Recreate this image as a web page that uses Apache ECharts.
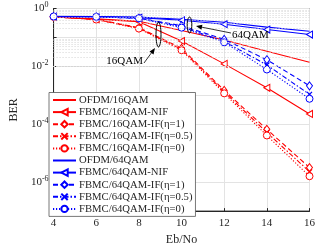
<!DOCTYPE html>
<html><head><meta charset="utf-8">
<script src="https://cdn.jsdelivr.net/npm/echarts@6/dist/echarts.min.js"></script>
<style>html,body{margin:0;padding:0;background:#fff}#c{width:318px;height:251px}</style>
</head><body><div id="c"></div>
<script>
const ebno = [4, 6, 8, 10, 12, 14, 16];
const ofdm16  = [0.515, 0.44, 0.362, 0.173, 0.082, 0.0335, 0.0139];
const nif16   = [0.515, 0.424, 0.348, 0.075, 0.0122, 0.00182, 2.27e-4];
const if16e1  = [0.515, 0.424, 0.218, 0.0424, 1.48e-3, 6.7e-5, 3.2e-6];
const if16e05 = [0.515, 0.417, 0.21, 0.0392, 1.32e-3, 5.2e-5, 2.3e-6];
const if16e0  = [0.515, 0.414, 0.202, 0.0362, 1.17e-3, 4.1e-5, 1.6e-6];
const ofdm64  = [0.536, 0.523, 0.503, 0.424, 0.335, 0.227, 0.164];
const nif64   = [0.527, 0.515, 0.484, 0.392, 0.287, 0.187, 0.126];
const if64e1  = [0.527, 0.515, 0.466, 0.255, 0.0855, 0.017, 0.00213];
const if64e05 = [0.527, 0.515, 0.466, 0.236, 0.0731, 0.0112, 1.08e-3];
const if64e0  = [0.527, 0.515, 0.458, 0.218, 0.0677, 0.0078, 7.6e-4];
const names = ['OFDM/16QAM','FBMC/16QAM-NIF','FBMC/16QAM-IF(η=1)','FBMC/16QAM-IF(η=0.5)','FBMC/16QAM-IF(η=0)',
               'OFDM/64QAM','FBMC/64QAM-NIF','FBMC/64QAM-IF(η=1)','FBMC/64QAM-IF(η=0.5)','FBMC/64QAM-IF(η=0)'];

const FONT = 'Liberation Serif';
const RED = '#ff0000', BLUE = '#0000ff';
const TRI = 'path://M0,5L10,0L10,10Z';
const XM = 'path://M0,0L10,10M10,0L0,10';

function mk(name, vals, color, type, sym) {
  const s = {
    name, type: 'line', data: ebno.map((x, i) => [x, vals[i]]),
    lineStyle: { color, width: 1.1, type }, z: 3, animation: false
  };
  if (sym === 'tri') { s.symbol = TRI; s.symbolSize = [6, 7]; s.itemStyle = { color: '#fff', borderColor: color, borderWidth: 1 }; }
  else if (sym === 'dia') { s.symbol = 'diamond'; s.symbolSize = [6, 8]; s.itemStyle = { color: '#fff', borderColor: color, borderWidth: 1 }; }
  else if (sym === 'x') { s.symbol = XM; s.symbolSize = 5; s.itemStyle = { color: 'transparent', borderColor: color, borderWidth: 1.3 }; }
  else if (sym === 'cir') { s.symbol = 'circle'; s.symbolSize = 7; s.itemStyle = { color: '#fff', borderColor: color, borderWidth: 1 }; }
  else { s.symbol = 'circle'; s.symbolSize = 0; s.showSymbol = false; s.itemStyle = { color: 'transparent', borderColor: 'transparent', borderWidth: 0 }; }
  if (sym) s.showSymbol = true;
  return s;
}
const dashDot = [5, 2, 1.5, 2];
const series = [
  mk(names[0], ofdm16, RED, 'solid', null),
  mk(names[1], nif16, RED, 'solid', 'tri'),
  mk(names[2], if16e1, RED, [5, 3], 'dia'),
  mk(names[3], if16e05, RED, dashDot, 'x'),
  mk(names[4], if16e0, RED, [1.2, 1.8], 'cir'),
  mk(names[5], ofdm64, BLUE, 'solid', null),
  mk(names[6], nif64, BLUE, 'solid', 'tri'),
  mk(names[7], if64e1, BLUE, [5, 3], 'dia'),
  mk(names[8], if64e05, BLUE, dashDot, 'x'),
  mk(names[9], if64e0, BLUE, [1.2, 1.8], 'cir')
];
const minor = [];
for (let e = -7; e < 0; e++) for (let k = 2; k <= 9; k++) minor.push(k * Math.pow(10, e));
series.unshift({
  name: '_grid', type: 'line', data: [], z: 1, animation: false,
  markLine: { silent: true, symbol: 'none', animation: false, label: { show: false },
    lineStyle: { type: [1, 2], color: '#d4d4d4', width: 1 },
    data: minor.map(v => ({ yAxis: v })) }
});

const chart = echarts.init(document.getElementById('c'));
chart.setOption({
  animation: false,
  grid: { left: 41, right: 6, top: 8.5, bottom: 35, show: true, borderColor: '#262626', borderWidth: 1, backgroundColor: 'transparent' },
  xAxis: {
    type: 'value', min: 4, max: 16, interval: 2,
    name: 'Eb/No', nameLocation: 'middle', nameGap: 21,
    nameTextStyle: { fontFamily: FONT, fontSize: 12, color: '#262626' },
    axisLine: { lineStyle: { color: '#262626' } },
    axisTick: { inside: true, length: 3, lineStyle: { color: '#262626' } },
    axisLabel: { fontFamily: FONT, fontSize: 11, color: '#262626', margin: 7 },
    splitLine: { show: true, lineStyle: { color: '#e3e3e3', width: 1 } }
  },
  yAxis: {
    type: 'log', logBase: 10, min: 1e-7, max: 1, interval: 1,
    name: 'BER', nameLocation: 'middle', nameGap: 27,
    nameTextStyle: { fontFamily: FONT, fontSize: 12, color: '#262626' },
    axisLine: { show: true, lineStyle: { color: '#262626' } },
    axisTick: { show: true, inside: true, length: 3, lineStyle: { color: '#262626' } },
    axisLabel: {
      margin: 5,
      formatter: v => { const e = Math.round(Math.log10(v)); if (e % 2 !== 0) return ''; return '{b|10}{s|' + e + '}'; },
      rich: { b: { fontFamily: FONT, fontSize: 11, color: '#262626' },
              s: { fontFamily: FONT, fontSize: 8, color: '#262626', padding: [0, 0, 7, 0] } }
    },
    splitLine: { show: true, lineStyle: { color: '#e3e3e3', width: 1 } }
  },
  legend: {
    data: names, orient: 'vertical', left: 49, top: 92.5,
    backgroundColor: '#fff', borderColor: '#555', borderWidth: 0.8,
    padding: [2, 3, 2, 3], itemWidth: 23, itemHeight: 8, itemGap: 1.1,
    textStyle: { fontFamily: FONT, fontSize: 10.7, lineHeight: 10.3, color: '#262626', padding: [0, 0, 0, -2] }
  },
  series,
  graphic: [
    { type: 'ellipse', shape: { cx: 158.5, cy: 34.5, rx: 2.5, ry: 12.5 }, style: { fill: 'none', stroke: '#000', lineWidth: 1 }, z: 10 },
    { type: 'ellipse', shape: { cx: 189.5, cy: 25, rx: 2.3, ry: 8 }, style: { fill: 'none', stroke: '#000', lineWidth: 1 }, z: 10 },
    { type: 'line', shape: { x1: 144, y1: 63, x2: 153, y2: 50.7 }, style: { stroke: '#000', lineWidth: 0.8 }, z: 10 },
    { type: 'polygon', shape: { points: [[155, 48], [153.5, 54.4], [149.5, 51.4]] }, style: { fill: '#000' }, z: 10 },
    { type: 'line', shape: { x1: 231, y1: 33, x2: 199, y2: 26.6 }, style: { stroke: '#000', lineWidth: 0.8 }, z: 10 },
    { type: 'polygon', shape: { points: [[196, 26], [202.4, 24.75], [201.4, 29.65]] }, style: { fill: '#000' }, z: 10 },
    { type: 'text', x: 143, y: 61.5, style: { text: '16QAM', font: '11px "Liberation Serif"', fill: '#000', align: 'right', verticalAlign: 'middle' }, z: 10 },
    { type: 'text', x: 232, y: 35, style: { text: '64QAM', font: '11px "Liberation Serif"', fill: '#000', align: 'left', verticalAlign: 'middle' }, z: 10 }
  ]
});
</script></body></html>
